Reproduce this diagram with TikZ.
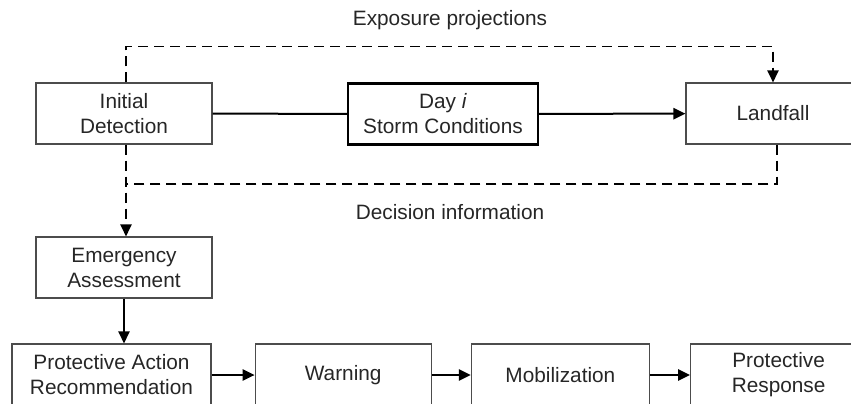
\documentclass[tikz,border=0pt]{standalone}
\usepackage{fontspec}
\setmainfont{Liberation Sans}
\usepackage{tikz}
\usetikzlibrary{arrows.meta,positioning}

\begin{document}
\begin{tikzpicture}[x=0.5pt, y=-0.5pt,
		>={Triangle[length=6pt,width=5.6pt]},
		node distance = 20pt,
		box/.style = {draw=black!70, line width=0.6pt, align=center, inner sep=0pt, text=black!85,
			minimum width=88pt, minimum height=30.5pt, font=\fontsize{10.4}{12.5}\selectfont},
		thickbox/.style = {box, draw=black, line width=1.1pt},
		flow/.style = {->, line width=1pt},
		info/.style = {line width=0.85pt, dash pattern=on 5pt off 3pt},
		lbl/.style = {text=black!85, font=\fontsize{10.4}{12.5}\selectfont}
		]
		\useasboundingbox (0,0) rectangle (851,403);
		
		\node (det)  [box] at (124,113.5)                       {Initial\\Detection};
		\node (day)  [thickbox,minimum width=95pt] at (443,114)  {Day \textit{i}\\Storm Conditions};
		\node (land) [box,minimum width=87pt] at (773,113.5)     {Landfall};
		\node (ema)  [box] at (124,267.5)                        {Emergency\\Assessment};
		
		\node (par)  [box,minimum width=99.5pt,minimum height=31pt] at (111.5,375) {Protective Action\\Recommendation};
		\node (warn) [box,minimum height=31pt,right=21.5pt of par]  {Warning};
		\node (mob)  [box,minimum width=89pt,minimum height=31pt,right=19.5pt of warn] {Mobilization};
		\node (resp) [box,minimum height=31pt,right=20pt of mob]    {Protective\\Response};
		
		\node (expo) [lbl] at (450,20)  {Exposure projections};
		\node (deci) [lbl] at (450,212) {Decision information};
		
		\coordinate (top) at (126,46.5);
		\coordinate (bot) at (126,184);
		
		% storm track
		\draw[line width=1pt] (det) -- (day);
		\draw[flow] (day) -- (land);
		
		% information loops
		\draw[info,->] ([xshift=1pt]det.north) |- (top) -| (land.north);
		\draw[info] ([xshift=2pt]land.south) |- (bot);
		\draw[info,->] ([xshift=1pt]det.south) -- ([xshift=1pt]ema.north);
		
		% response chain
		\draw[flow] (ema) -- (ema |- par.north);
		\draw[flow] (par) -- (warn);
		\draw[flow] (warn) -- (mob);
		\draw[flow] (mob) -- (resp);
		
\end{tikzpicture}
\end{document}
